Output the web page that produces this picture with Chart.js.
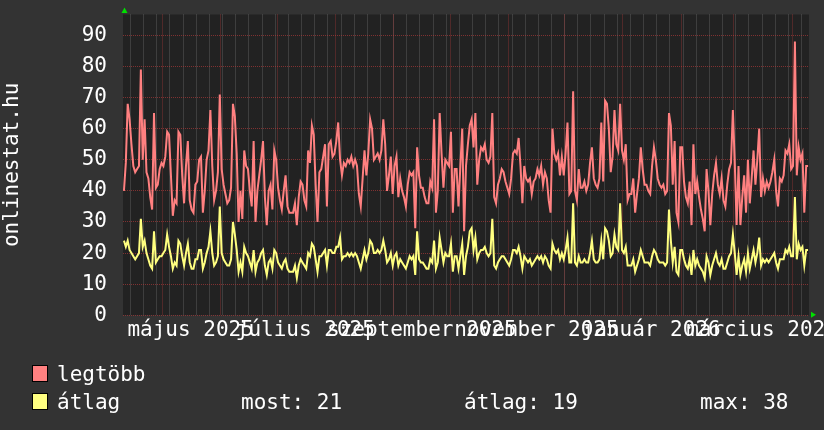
<!DOCTYPE html>
<html><head><meta charset="utf-8">
<script src="https://cdn.jsdelivr.net/npm/chart.js@4/dist/chart.umd.min.js"></script>
<style>html,body{margin:0;padding:0;background:#333333;}#wrap{width:824px;height:430px;position:relative;}</style>
</head><body><div id="wrap"><canvas id="c" width="824" height="430"></canvas></div>
<script>
// ---- data (daily values starting at startDate) ----
const startDate = '2025-04-10';
const endDate = '2026-04-10';
const legtobb = [
40,49,68,63,55,48,46,47,48,79, 50,63,46,44,38,34,65,41,42,47, 49,48,51,59,58,45,32,37,36,59,
58,45,36,48,56,37,34,33,42,43, 50,51,33,40,50,53,66,48,37,40, 46,71,47,42,39,36,37,41,68,64,
52,30,40,31,53,48,47,40,35,56, 30,40,45,50,56,38,29,40,42,34, 53,50,41,37,34,40,45,35,33,33,
33,36,29,38,43,42,37,35,53,49, 61,58,42,30,46,47,51,55,35,55, 56,51,52,56,62,50,45,49,48,50,
49,51,48,50,48,39,35,44,53,45, 52,63,60,50,51,52,50,53,63,55, 40,45,51,39,48,51,38,44,40,38,
35,42,46,45,46,28,54,45,41,41, 38,36,36,43,41,63,33,40,65,52, 41,50,49,48,59,33,47,47,35,48,
60,27,48,55,61,63,54,65,42,50, 54,53,55,50,49,51,65,38,36,42, 44,47,46,43,41,39,44,52,53,52,
57,48,36,48,44,43,44,39,43,44, 47,45,48,42,46,44,37,33,60,52, 50,52,45,51,45,52,62,39,40,72,
40,37,47,41,41,43,40,42,49,54, 44,42,41,44,62,43,69,68,60,46, 51,66,55,53,68,53,50,55,37,39,
39,44,33,39,44,54,47,42,42,40, 39,48,54,50,44,42,41,42,39,40, 65,61,42,56,33,30,54,54,43,38,
36,43,29,55,39,43,38,34,31,27, 47,40,29,39,45,49,42,39,44,37, 35,42,47,49,66,49,29,48,29,38,
45,33,50,36,44,53,42,50,60,38, 44,40,43,41,43,46,50,40,35,44, 43,45,53,52,55,47,48,88,45,54,
50,52,33,48,48
];
const atlag = [
24,22,24,21,20,19,18,19,20,31, 22,24,20,18,16,15,27,17,18,19, 19,20,21,26,22,19,15,17,16,24,
23,19,16,20,23,17,15,15,18,18, 21,21,15,17,20,22,27,20,16,17, 19,35,20,18,17,16,16,18,30,26,
21,14,17,14,22,20,19,17,15,21, 14,17,18,20,21,16,13,17,18,15, 21,20,17,16,15,17,18,15,14,14,
14,16,12,16,18,17,16,15,20,19, 23,22,18,14,19,19,20,21,16,21, 21,20,20,22,22,25,18,19,19,20,
19,20,19,20,19,17,15,18,21,18, 20,24,23,20,20,21,20,21,24,21, 17,18,20,16,19,20,16,18,17,16,
15,17,19,18,19,13,27,18,17,17, 16,15,15,18,17,24,15,17,25,21, 17,20,19,19,23,14,19,19,15,19,
23,13,19,22,27,28,21,25,18,20, 21,21,22,20,19,20,31,16,15,17, 18,19,19,18,17,16,18,21,21,20,
22,19,15,19,18,17,18,16,17,18, 19,18,19,17,19,18,16,15,23,21, 20,21,18,20,18,21,25,17,17,36,
17,16,19,17,17,18,17,17,20,24, 18,17,17,18,24,18,28,27,24,19, 20,26,22,21,36,21,20,22,16,16,
16,18,14,16,18,21,19,17,17,17, 16,19,21,20,18,17,17,17,16,17, 34,24,17,22,14,13,21,21,18,16,
15,18,13,21,16,18,16,15,14,12, 19,17,13,16,18,20,17,16,18,15, 15,17,19,20,26,20,13,19,13,16,
18,14,20,15,18,21,17,20,25,16, 18,17,18,17,18,19,20,17,15,18, 18,18,21,20,22,19,19,38,18,23,
21,22,16,21,21
];
const yTickLabels = [0,10,20,30,40,50,60,70,80,90];
const yMax = 96.7;
const xTickLabels = ['május 2025','július 2025','szeptember 2025','november 2025','január 2026','március 2026'];
const xTickMonths = ['2025-05','2025-07','2025-09','2025-11','2026-01','2026-03'];
const legendLabels = ['legtöbb','átlag'];
const seriesColors = ['#ff8080','#ffff80'];
const statLabels = ['most: 21','átlag: 19','max: 38'];

// ---- helpers ----
const DAY = 86400000;
const t0 = Date.parse(startDate + 'T00:00:00Z');
const totalDays = (Date.parse(endDate + 'T00:00:00Z') - t0) / DAY;
const dayOf = s => (Date.parse(s + 'T00:00:00Z') - t0) / DAY;

const xTicks = [];
// weekly minor lines (Mondays)
for (let d = 0; d <= totalDays; d++) {
  const wd = new Date(t0 + d * DAY).getUTCDay();
  if (wd === 1) xTicks.push({value: d, kind: 'minor', label: ''});
}
// monthly major lines
{
  let dt = new Date(Date.UTC(2025, 4, 1));
  while ((dt - t0) / DAY <= totalDays) {
    xTicks.push({value: (dt - t0) / DAY, kind: 'major', label: ''});
    dt = new Date(Date.UTC(dt.getUTCFullYear(), dt.getUTCMonth() + 1, 1));
  }
}
// labels centred half a month after the month start
xTickMonths.forEach((m, i) => xTicks.push({value: dayOf(m + '-01') + 15, kind: 'label', label: xTickLabels[i]}));
xTicks.sort((a, b) => a.value - b.value);

const yTicks = [];
for (let v = 0; v <= 96; v += 2) yTicks.push(v);

const FONT = {family: 'DejaVu Sans Mono', size: 21};
const MINOR = 'rgba(110,110,110,0.75)';
const MAJOR = 'rgba(190,60,60,0.6)';

const bgPlugin = {
  id: 'bg',
  beforeDraw(chart) {
    const {ctx, chartArea: a} = chart;
    ctx.save();
    ctx.fillStyle = '#333333';
    ctx.fillRect(0, 0, chart.width, chart.height);
    ctx.fillStyle = '#222222';
    ctx.fillRect(a.left, a.top, a.right - a.left, a.bottom - a.top);
    ctx.restore();
  },
  afterDraw(chart) {
    const {ctx, chartArea: a} = chart;
    ctx.save();
    // green arrows
    ctx.fillStyle = '#00e000';
    ctx.beginPath();
    ctx.moveTo(a.left + 1.5, a.top - 7); ctx.lineTo(a.left - 1.5, a.top - 1.5); ctx.lineTo(a.left + 4.5, a.top - 1.5); ctx.closePath(); ctx.fill();
    ctx.beginPath();
    ctx.moveTo(a.right + 7, a.bottom - 0.5); ctx.lineTo(a.right + 2, a.bottom - 3.5); ctx.lineTo(a.right + 2, a.bottom + 2.5); ctx.closePath(); ctx.fill();
    // legend
    ctx.font = FONT.size + 'px "' + FONT.family + '"';
    ctx.textBaseline = 'alphabetic';
    ctx.textAlign = 'left';
    const rows = [381, 409];
    legendLabels.forEach((lab, i) => {
      const y = rows[i];
      ctx.fillStyle = seriesColors[i];
      ctx.fillRect(32, y - 15, 15, 15);
      ctx.strokeStyle = '#000';
      ctx.lineWidth = 1;
      ctx.strokeRect(32.5, y - 15.5, 15, 16);
      ctx.fillStyle = '#ffffff';
      ctx.fillText(lab, 57, y);
    });
    const statX = [241, 464, 700];
    statLabels.forEach((s, i) => ctx.fillText(s, statX[i], rows[1]));
    ctx.restore();
  }
};

new Chart(document.getElementById('c'), {
  type: 'line',
  data: {
    datasets: [
      {label: legendLabels[0], data: legtobb.map((v, i) => ({x: i + 0.5, y: v})), borderColor: seriesColors[0], borderWidth: 2, pointRadius: 0, tension: 0},
      {label: legendLabels[1], data: atlag.map((v, i) => ({x: i + 0.5, y: v})), borderColor: seriesColors[1], borderWidth: 2, pointRadius: 0, tension: 0}
    ]
  },
  options: {
    responsive: false,
    animation: false,
    events: [],
    layout: {padding: {top: 14.5, right: 15, bottom: 84.7, left: 0}},
    plugins: {legend: {display: false}, tooltip: {enabled: false}},
    scales: {
      x: {
        type: 'linear', min: 0, max: totalDays,
        afterBuildTicks(s) { s.ticks = xTicks.map(t => ({value: t.value})); },
        afterFit(s) { s.height = 30; s.paddingLeft = 0; s.paddingRight = 0; },
        ticks: {autoSkip: false, maxRotation: 0, minRotation: 0, color: '#ffffff', font: FONT, padding: 3,
          callback: (v, i) => xTicks[i] ? xTicks[i].label : ''},
        grid: {drawTicks: false, lineWidth: 1,
          color: c => { const t = xTicks[c.index]; if (!t || t.kind === 'label') return 'rgba(0,0,0,0)'; return t.kind === 'major' ? MAJOR : MINOR; }},
        border: {display: false, dash: [1, 1]}
      },
      y: {
        type: 'linear', min: 0, max: yMax,
        afterBuildTicks(s) { s.ticks = yTicks.map(v => ({value: v})); },
        afterFit(s) { s.width = 123; s.paddingTop = 0; s.paddingBottom = 0; },
        ticks: {color: '#ffffff', font: FONT, padding: 16,
          callback: v => yTickLabels.includes(v) ? String(v) : ''},
        grid: {drawTicks: false, lineWidth: 1,
          color: c => (c.tick && c.tick.value % 10 === 0) ? MAJOR : MINOR},
        border: {display: false, dash: [1, 1]},
        title: {display: true, text: 'onlinestat.hu', color: '#ffffff', font: FONT, padding: 0}
      }
    }
  },
  plugins: [bgPlugin]
});
</script></body></html>
